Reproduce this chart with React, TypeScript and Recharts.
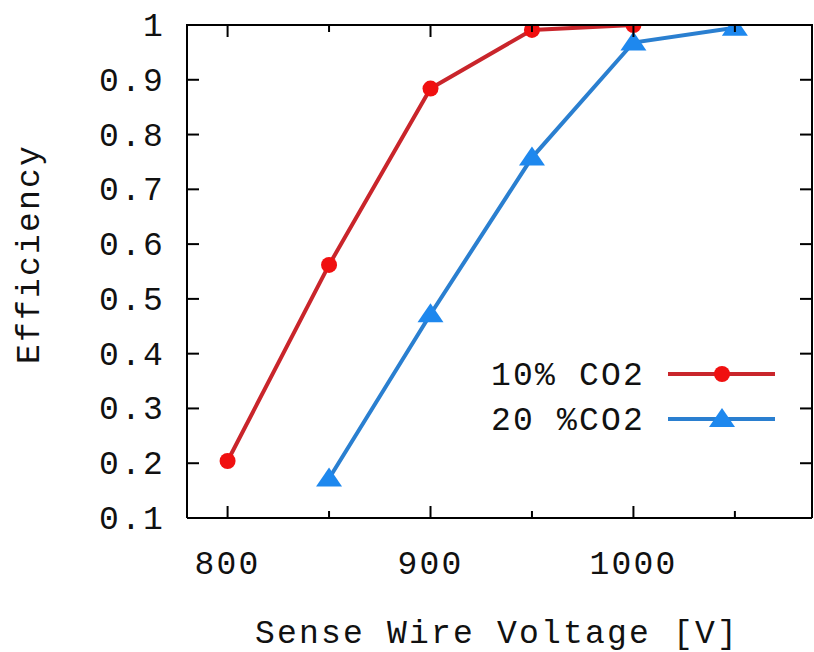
import React from 'react';
import { LineChart, Line, XAxis, YAxis } from 'recharts';

const voltages = [800, 850, 900, 950, 1000, 1050];
const co2_10 = [0.204, 0.562, 0.884, 0.991, 1.0, null];
const co2_20 = [null, 0.172, 0.472, 0.758, 0.968, 0.995];
const xDomain = [780, 1088];
const yDomain = [0.1, 1];
const xTicks = [800, 850, 900, 950, 1000, 1050];
const xLabeled = [800, 900, 1000];
const yTicks = [0.1, 0.2, 0.3, 0.4, 0.5, 0.6, 0.7, 0.8, 0.9, 1];
const seriesNames = ['10% CO2', '20 %CO2'];

const data = voltages.map((v, i) => ({ v, a: co2_10[i], b: co2_20[i] }));

const FONT = '"Liberation Mono", "DejaVu Sans Mono", monospace';
const FS = 33;
const LS = 2.2;
const RED_LINE = '#c9252b';
const RED_MARK = '#f01010';
const BLUE_LINE = '#2a7fd0';
const BLUE_MARK = '#1e88ee';
const PLOT_LEFT = 187;
const PLOT_TOP = 25;
const PLOT_RIGHT = 812;
const PLOT_BOTTOM = 518;

const RedDot = (props: any) => {
  const { cx, cy } = props;
  if (cx == null || cy == null || props.value == null) return null;
  return <circle cx={cx} cy={cy} r={8} fill={RED_MARK} stroke="none" />;
};
const BlueTri = (props: any) => {
  const { cx, cy } = props;
  if (cx == null || cy == null || props.value == null) return null;
  const pts = `${cx},${cy - 11} ${cx - 13},${cy + 8} ${cx + 13},${cy + 8}`;
  return <polygon points={pts} fill={BLUE_MARK} stroke="none" />;
};

const BottomTick = (props: any) => {
  const { x, y, payload } = props;
  const major = xLabeled.includes(payload.value);
  const len = major ? 12 : 7;
  return (
    <g>
      <line x1={x} x2={x} y1={y} y2={y - len} stroke="#000" strokeWidth={2} />
      <line x1={x} x2={x} y1={PLOT_TOP} y2={PLOT_TOP + len} stroke="#000" strokeWidth={2} />
      {major && (
        <text x={x} y={y + 56} textAnchor="middle" fontFamily={FONT} fontSize={FS} letterSpacing={LS} fill="#111">
          {payload.value}
        </text>
      )}
    </g>
  );
};
const LeftTick = (props: any) => {
  const { x, y, payload } = props;
  return (
    <g>
      <line x1={x} x2={x + 12} y1={y} y2={y} stroke="#000" strokeWidth={2} />
      <line x1={PLOT_RIGHT} x2={PLOT_RIGHT - 12} y1={y} y2={y} stroke="#000" strokeWidth={2} />
      <text x={x - 22} y={y + 11} textAnchor="end" fontFamily={FONT} fontSize={FS} letterSpacing={LS} fill="#111">
        {String(payload.value)}
      </text>
    </g>
  );
};

export default function App() {
  return (
    <div style={{ position: 'absolute', left: 0, top: 0, width: 814, height: 652, background: '#fff' }}>
      <LineChart width={814} height={652} data={data} margin={{ top: PLOT_TOP, right: 814 - PLOT_RIGHT, bottom: 74, left: 107 }}>
        <XAxis
          dataKey="v"
          type="number"
          domain={xDomain}
          allowDataOverflow
          ticks={xTicks}
          interval={0}
          height={60}
          tickSize={0}
          tickMargin={0}
          tick={<BottomTick />}
          axisLine={{ stroke: '#000', strokeWidth: 2 }}
          tickLine={false}
        />
        <YAxis
          type="number"
          domain={yDomain}
          allowDataOverflow
          ticks={yTicks}
          interval={0}
          width={80}
          tickSize={0}
          tickMargin={0}
          tick={<LeftTick />}
          axisLine={{ stroke: '#000', strokeWidth: 2 }}
          tickLine={false}
        />
        <Line
          dataKey="a"
          name={seriesNames[0]}
          stroke={RED_LINE}
          strokeWidth={4}
          dot={<RedDot />}
          activeDot={false}
          connectNulls={false}
          isAnimationActive={false}
        />
        <Line
          dataKey="b"
          name={seriesNames[1]}
          stroke={BLUE_LINE}
          strokeWidth={4}
          dot={<BlueTri />}
          activeDot={false}
          connectNulls={false}
          isAnimationActive={false}
        />
        <g>
          <text x={645} y={385} textAnchor="end" fontFamily={FONT} fontSize={FS} letterSpacing={LS} fill="#111">
            {seriesNames[0]}
          </text>
          <line x1={668} x2={775} y1={374} y2={374} stroke={RED_LINE} strokeWidth={4} />
          <circle cx={722} cy={374} r={8} fill={RED_MARK} />
          <text x={645} y={430} textAnchor="end" fontFamily={FONT} fontSize={FS} letterSpacing={LS} fill="#111">
            {seriesNames[1]}
          </text>
          <line x1={668} x2={775} y1={419} y2={419} stroke={BLUE_LINE} strokeWidth={4} />
          <polygon points="722,408 709,427 735,427" fill={BLUE_MARK} />
        </g>
        <text x={30} y={254} transform="rotate(-90 30 254)" textAnchor="middle" dominantBaseline="central" fontFamily={FONT} fontSize={FS} letterSpacing={LS} fill="#111">
          Efficiency
        </text>
        <text x={497} y={643} textAnchor="middle" fontFamily={FONT} fontSize={FS} letterSpacing={LS} fill="#111">
          Sense Wire Voltage [V]
        </text>
      </LineChart>
      <svg
        width={814}
        height={652}
        style={{ position: 'absolute', left: 0, top: 0, pointerEvents: 'none' }}
      >
        <line x1={PLOT_LEFT - 1} x2={PLOT_RIGHT + 1} y1={PLOT_TOP} y2={PLOT_TOP} stroke="#000" strokeWidth={2} />
        <line x1={PLOT_RIGHT} x2={PLOT_RIGHT} y1={PLOT_TOP} y2={PLOT_BOTTOM} stroke="#000" strokeWidth={2} />
      </svg>
    </div>
  );
}
